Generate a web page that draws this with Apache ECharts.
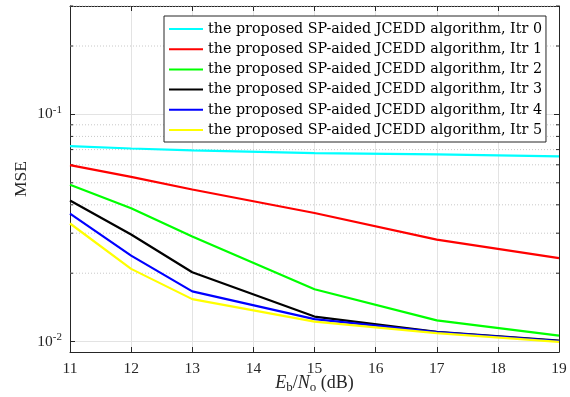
<!DOCTYPE html>
<html><head><meta charset="utf-8">
<script src="https://cdn.jsdelivr.net/npm/echarts@6/dist/echarts.min.js"></script>
<style>html,body{margin:0;padding:0;background:#fff}#c{width:570px;height:397px}</style>
</head><body><div id="c"></div>
<script>
const ebno = [11, 12, 13, 15, 17, 19];
const seriesNames = [
  'the proposed SP-aided JCEDD algorithm, Itr 0',
  'the proposed SP-aided JCEDD algorithm, Itr 1',
  'the proposed SP-aided JCEDD algorithm, Itr 2',
  'the proposed SP-aided JCEDD algorithm, Itr 3',
  'the proposed SP-aided JCEDD algorithm, Itr 4',
  'the proposed SP-aided JCEDD algorithm, Itr 5'
];
const itr0 = [0.0725, 0.0708, 0.0694, 0.0675, 0.0667, 0.0653];
const itr1 = [0.0598, 0.0531, 0.0467, 0.0368, 0.0281, 0.0233];
const itr2 = [0.0490, 0.0386, 0.0290, 0.0170, 0.0124, 0.01063];
const itr3 = [0.0418, 0.0296, 0.0202, 0.01289, 0.01104, 0.0101];
const itr4 = [0.0366, 0.0239, 0.01663, 0.01256, 0.0110, 0.01004];
const itr5 = [0.0331, 0.0209, 0.01538, 0.01225, 0.01089, 0.00997];
const minorY = [0.02, 0.03, 0.04, 0.05, 0.06, 0.07, 0.08, 0.09, 0.2, 0.3];
const colors = ['#00ffff', '#ff0000', '#00ff00', '#000000', '#0000ff', '#ffff00'];
const allData = [itr0, itr1, itr2, itr3, itr4, itr5];

const AX = '#262626';
const LF = 'Liberation Serif';
const chart = echarts.init(document.getElementById('c'), null, {renderer: 'canvas'});

const lineSeries = allData.map((arr, i) => ({
  type: 'line', name: seriesNames[i], xAxisIndex: 0, yAxisIndex: 0,
  data: ebno.map((x, j) => [x, arr[j]]),
  symbol: 'none', showSymbol: false,
  lineStyle: {color: colors[i], width: 2.2}, itemStyle: {color: colors[i]},
  z: 3 + i
}));

const minorSeries = {
  type: 'custom', xAxisIndex: 0, yAxisIndex: 0, silent: true, z: 1,
  data: minorY.map(v => [11, v]),
  encode: {x: 0, y: 1},
  renderItem: function (params, api) {
    const v = api.value(1);
    const pL = api.coord([11, v]);
    const pR = api.coord([19, v]);
    return {type: 'group', children: [
      {type: 'line', shape: {x1: pL[0], y1: pL[1], x2: pR[0], y2: pR[1]},
       style: {stroke: '#c8c8c8', lineWidth: 1, lineDash: [1, 2]}},
      {type: 'line', shape: {x1: pL[0], y1: pL[1], x2: pL[0] + 3, y2: pL[1]},
       style: {stroke: AX, lineWidth: 1}},
      {type: 'line', shape: {x1: pR[0] - 3, y1: pR[1], x2: pR[0], y2: pR[1]},
       style: {stroke: AX, lineWidth: 1}}
    ]};
  }
};

const option = {
  animation: false,
  backgroundColor: '#fff',
  grid: {left: 70, right: 11, top: 6, bottom: 45, containLabel: false, outerBoundsMode: 'none'},
  legend: {
    data: seriesNames, orient: 'vertical', left: 164, top: 16,
    itemWidth: 34, itemHeight: 14, itemGap: 6.2,
    padding: [6, 4, 5, 4], borderColor: AX, borderWidth: 1, backgroundColor: '#fff',
    itemStyle: {opacity: 0},
    textStyle: {fontFamily: 'DejaVu Serif', fontSize: 14.3, color: '#000'},
    z: 20
  },
  xAxis: [{
    type: 'value', min: 11, max: 19, interval: 1, position: 'bottom',
    axisLine: {lineStyle: {color: AX, width: 1}},
    axisTick: {inside: true, length: 5, lineStyle: {color: AX}},
    axisLabel: {color: AX, fontFamily: LF, fontSize: 15.5, margin: 9},
    splitLine: {show: true, lineStyle: {color: '#e3e3e3', width: 1}},
    name: '{i|E}{sub|b}{n|/}{i|N}{sub|o}{n| (dB)}', nameLocation: 'middle', nameGap: 21,
    nameMoveOverlap: false,
    nameTextStyle: {color: AX, fontFamily: LF, fontSize: 18, rich: {
      i: {fontFamily: LF, fontSize: 18, fontStyle: 'italic', color: AX},
      n: {fontFamily: LF, fontSize: 18, color: AX},
      sub: {fontFamily: LF, fontSize: 13, color: AX, padding: [8, 0, 0, 0]}
    }}
  }, {
    type: 'value', min: 11, max: 19, interval: 1, position: 'top',
    axisLine: {lineStyle: {color: AX, width: 1}},
    axisTick: {inside: true, length: 5, lineStyle: {color: AX}},
    axisLabel: {show: false}, splitLine: {show: false}
  }],
  yAxis: [{
    type: 'log', logBase: 10, min: 0.009, max: 0.3, position: 'left',
    axisLine: {show: true, lineStyle: {color: AX, width: 1}},
    axisTick: {show: true, inside: true, length: 5, lineStyle: {color: AX}},
    axisLabel: {
      color: AX, fontFamily: LF, fontSize: 15.5, margin: 8,
      showMinLabel: false, showMaxLabel: false,
      formatter: function (v) {
        const e = Math.round(Math.log10(v));
        if (Math.abs(Math.log10(v) - e) > 1e-6) return '';
        return '{b|10}{sup|' + e + '}';
      },
      rich: {
        b: {fontFamily: LF, fontSize: 15.5, color: AX},
        sup: {fontFamily: LF, fontSize: 11, color: AX, padding: [0, 0, 9, 0]}
      }
    },
    splitLine: {show: true, lineStyle: {color: '#e3e3e3', width: 1}},
    name: 'MSE', nameLocation: 'middle', nameGap: 40, nameRotate: 90,
    nameMoveOverlap: false,
    nameTextStyle: {color: AX, fontFamily: LF, fontSize: 17.5}
  }, {
    type: 'log', logBase: 10, min: 0.009, max: 0.3, position: 'right',
    axisLine: {show: true, lineStyle: {color: AX, width: 1}},
    axisTick: {show: true, inside: true, length: 5, lineStyle: {color: AX}},
    axisLabel: {show: false}, splitLine: {show: false}
  }],
  series: [minorSeries].concat(lineSeries)
};
chart.setOption(option);
</script></body></html>
